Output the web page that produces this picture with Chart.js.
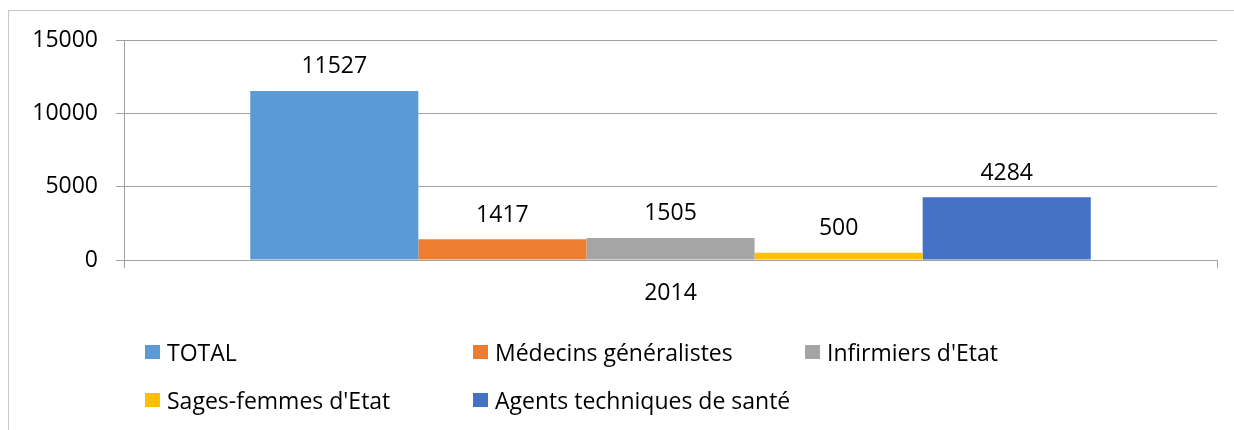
<!DOCTYPE html>
<html lang="fr">
<head>
    <meta charset="UTF-8">
    <title>Personnel de santé 2014</title>
    <script src="https://cdn.jsdelivr.net/npm/chart.js"></script>
    <style>
        html, body { margin: 0; padding: 0; background: #fff; }
        #wrap { position: relative; width: 1234px; height: 430px; overflow: hidden; }
        #frame { position: absolute; left: 8px; top: 10px; width: 1300px; height: 500px; border: 1px solid #c8c8c8; box-sizing: border-box; }
        #chart { position: absolute; left: 0; top: 0; }
        #legend {
            position: absolute; left: 145px; top: 328px;
            display: grid; grid-template-columns: 328px 332px auto; grid-auto-rows: 48px;
            font-family: "Open Sans", sans-serif; font-size: 23px; color: #000;
        }
        #legend .item { display: flex; align-items: center; white-space: nowrap; }
        #legend .box { width: 15px; height: 14px; margin-right: 7px; }
    </style>
</head>
<body>
<div id="wrap">
    <div id="frame"></div>
    <canvas id="chart" width="1234" height="430"></canvas>
    <div id="legend"></div>
</div>
<script>
    const categories = ['2014'];
    const seriesNames = ['TOTAL', 'Médecins généralistes', "Infirmiers d'Etat", "Sages-femmes d'Etat", 'Agents techniques de santé'];
    const seriesValues = [[11527], [1417], [1505], [500], [4284]];
    const seriesColors = ['#5B9BD5', '#ED7D31', '#A5A5A5', '#FFC000', '#4472C4'];
    const yTicks = [0, 5000, 10000, 15000];

    const FONT = '"Open Sans", sans-serif';

    const valueLabels = {
        id: 'valueLabels',
        afterDatasetsDraw(chart) {
            const ctx = chart.ctx;
            ctx.save();
            ctx.font = '23px ' + FONT;
            ctx.fillStyle = '#000';
            ctx.textAlign = 'center';
            ctx.textBaseline = 'middle';
            chart.data.datasets.forEach((ds, i) => {
                chart.getDatasetMeta(i).data.forEach((bar, j) => {
                    ctx.fillText(ds.data[j], bar.x, bar.y - 24);
                });
            });
            ctx.restore();
        }
    };

    const chart = new Chart(document.getElementById('chart'), {
        type: 'bar',
        data: {
            labels: categories,
            datasets: seriesNames.map((name, i) => ({
                label: name,
                data: seriesValues[i],
                backgroundColor: seriesColors[i],
                borderWidth: 0,
                categoryPercentage: 0.769,
                barPercentage: 1.0
            }))
        },
        options: {
            responsive: false,
            animation: false,
            layout: { padding: { left: 0, top: 40, right: 17, bottom: 0 } },
            plugins: { legend: { display: false }, tooltip: { enabled: false } },
            scales: {
                x: {
                    afterFit(scale) { scale.height = 170; },
                    grid: { drawOnChartArea: false, tickLength: 8, color: '#a0a0a0' },
                    border: { color: '#a0a0a0' },
                    ticks: { font: { family: FONT, size: 23 }, color: '#000', padding: 12 }
                },
                y: {
                    min: 0,
                    max: 15000,
                    afterFit(scale) { scale.width = 124; },
                    afterBuildTicks(scale) { scale.ticks = yTicks.map(v => ({ value: v })); },
                    grid: { color: '#a0a0a0', tickLength: 8 },
                    border: { color: '#a0a0a0' },
                    ticks: {
                        font: { family: FONT, size: 23 }, color: '#000', padding: 18,
                        callback: v => String(v)
                    }
                }
            }
        },
        plugins: [valueLabels]
    });

    const legend = document.getElementById('legend');
    seriesNames.forEach((name, i) => {
        const item = document.createElement('div');
        item.className = 'item';
        const box = document.createElement('span');
        box.className = 'box';
        box.style.background = seriesColors[i];
        const txt = document.createElement('span');
        txt.textContent = name;
        item.appendChild(box);
        item.appendChild(txt);
        legend.appendChild(item);
    });
</script>
</body>
</html>
